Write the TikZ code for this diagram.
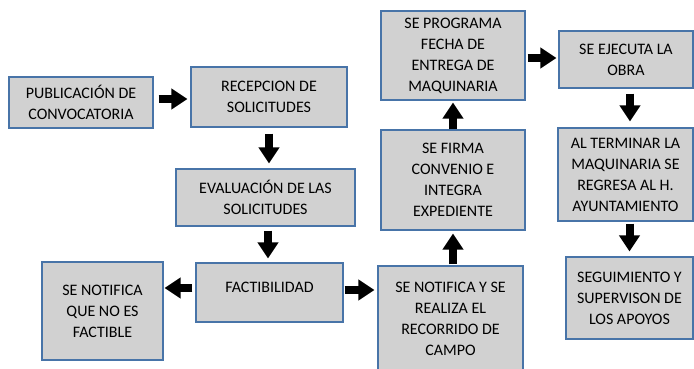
\documentclass[tikz,border=0pt]{standalone}
\usepackage{fontspec}
\setmainfont{Carlito}
\usetikzlibrary{arrows.meta,calc}
\definecolor{boxgray}{RGB}{209,209,209}
\definecolor{boxblue}{RGB}{72,116,168}

\begin{document}
\begin{tikzpicture}[x=1pt,y=-1pt,
  paso/.style={draw=boxblue, fill=boxgray, line width=1.1pt, align=center,
    inner sep=0pt, font=\fontsize{16}{21}\selectfont},
  flecha/.style={line width=8pt, -{Triangle[width=20pt,length=16pt]}}]
  \useasboundingbox (0,0) rectangle (694,369);
  % pasos del proceso
  \node[paso, minimum width=144pt, minimum height=51pt] (pub) at (81,102.5) {PUBLICACIÓN DE\\CONVOCATORIA};
  \node[paso, minimum width=156pt, minimum height=60pt] (rec) at (269,97) {RECEPCION DE\\SOLICITUDES};
  \node[paso, minimum width=179pt, minimum height=57pt] (eva) at (265.5,197.5) {EVALUACIÓN DE LAS\\SOLICITUDES};
  \node[paso, minimum width=147pt, minimum height=59pt] (fac) at (269.5,292.5) {\raisebox{5pt}[\height][\depth]{FACTIBILIDAD}};
  \node[paso, minimum width=121pt, minimum height=98pt] (nono) at (102.5,311) {SE NOTIFICA\\QUE NO ES\\FACTIBLE};
  \node[paso, minimum width=145pt, minimum height=106pt] (notif) at (450.5,319) {SE NOTIFICA Y SE\\REALIZA EL\\RECORRIDO DE\\CAMPO};
  \node[paso, minimum width=144pt, minimum height=100pt] (firma) at (453,180) {SE FIRMA\\CONVENIO E\\INTEGRA\\EXPEDIENTE};
  \node[paso, minimum width=144pt, minimum height=89pt] (prog) at (453,55.5) {SE PROGRAMA\\FECHA DE\\ENTREGA DE\\MAQUINARIA};
  \node[paso, minimum width=134pt, minimum height=57pt] (ejec) at (626,59.5) {SE EJECUTA LA\\OBRA};
  \node[paso, minimum width=135pt, minimum height=93pt] (term) at (625.5,174.5) {AL TERMINAR LA\\MAQUINARIA SE\\REGRESA AL H.\\AYUNTAMIENTO};
  \node[paso, minimum width=127pt, minimum height=82pt] (seg) at (629.5,298) {SEGUIMIENTO Y\\SUPERVISON DE\\LOS APOYOS};
  % flechas
  \draw[flecha, shorten <=5pt, shorten >=3pt] ([yshift=3.5pt]pub.east) -- ([yshift=3.5pt]pub.east -| rec.west);
  \draw[flecha, shorten <=6pt, shorten >=5pt] (rec.south) -- (rec.south |- eva.north);
  \draw[flecha, shorten <=4pt, shorten >=4pt] ([xshift=-1.5pt]fac.north |- eva.south) -- ([xshift=-1.5pt]fac.north);
  \draw[flecha, shorten <=3pt, shorten >=1pt] ([yshift=4.5pt]fac.west) -- ([yshift=4.5pt]fac.west -| nono.east);
  \draw[flecha, shorten <=1pt, shorten >=3pt] ([yshift=2.5pt]fac.east) -- ([yshift=2.5pt]fac.east -| notif.west);
  \draw[flecha, shorten <=1pt, shorten >=3pt] (firma.south |- notif.north) -- (firma.south);
  \draw[flecha, shorten <=0pt, shorten >=2pt] (firma.north) -- (prog.south);
  \draw[flecha, shorten <=2pt, shorten >=2pt] ([yshift=1.5pt]ejec.west -| prog.east) -- ([yshift=1.5pt]ejec.west);
  \draw[flecha, shorten <=5pt, shorten >=6pt] ([xshift=4pt]ejec.south) -- ([xshift=4pt]ejec.south |- term.north);
  \draw[flecha, shorten <=2pt, shorten >=5pt] (seg.north |- term.south) -- (seg.north);
\end{tikzpicture}
\end{document}
